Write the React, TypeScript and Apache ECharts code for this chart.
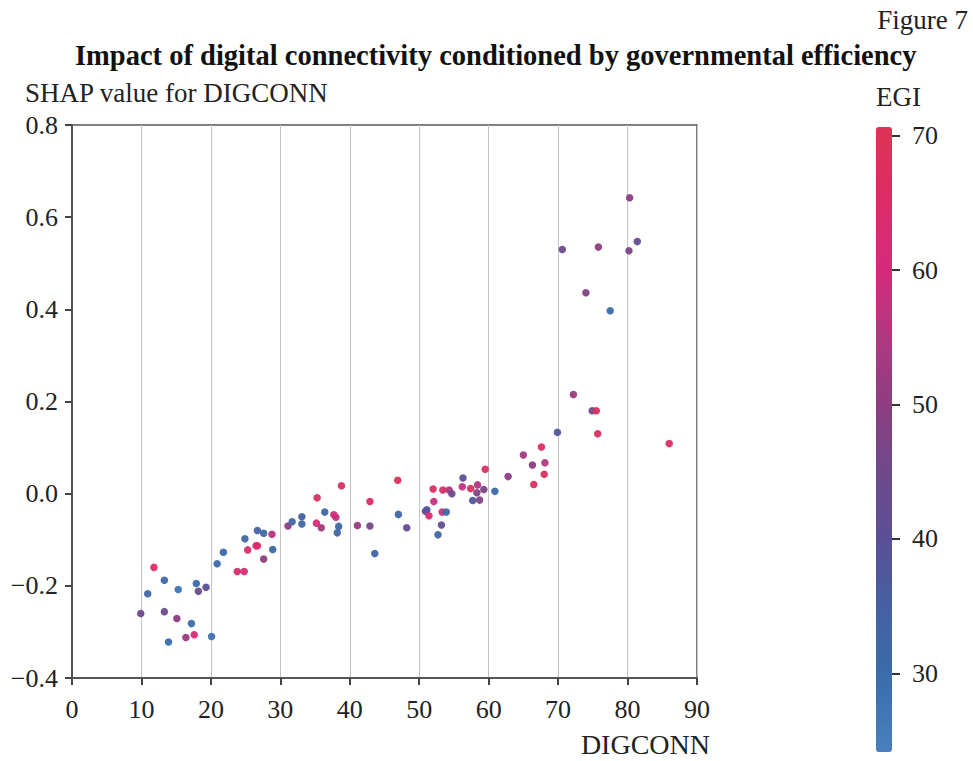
import React, { useEffect, useRef } from "react";
import * as echarts from "echarts";

// DIGCONN (x), SHAP value (y), EGI (colour)
const digconn: number[] = [
  9.9, 10.9, 11.8, 13.3, 13.3, 13.9, 15.3, 15.1, 16.4, 17.6, 17.2, 17.9, 18.2, 19.3, 20.1, 20.9, 21.8,
  23.8, 24.8, 24.9, 25.3, 26.5, 26.7, 26.7, 27.6, 27.6, 28.8, 28.9, 31.1, 31.7, 33.1, 33.1, 35.2, 35.9, 36.4,
  35.3, 37.7, 38.0, 38.4, 38.2, 38.8, 41.1, 42.9, 42.9, 43.6, 46.9, 47.0, 48.2, 50.9, 51.1, 51.4, 52.0, 52.1,
  53.3, 53.9, 53.2, 52.7, 53.4, 54.3, 54.7, 56.3, 56.2, 57.4, 57.7, 58.3, 58.4, 58.7, 59.3, 59.5, 60.9,
  62.8, 65.0, 66.3, 66.5, 67.6, 68.1, 68.0, 69.9, 74.9, 75.5, 75.7, 86.0,
  80.3, 81.4, 70.6, 75.8, 80.2, 74.0, 77.5, 72.2,
];
const shap: number[] = [
  -0.26, -0.217, -0.16, -0.188, -0.256, -0.322, -0.208, -0.271, -0.312, -0.306, -0.282, -0.195, -0.212, -0.203, -0.31, -0.152, -0.127,
  -0.169, -0.169, -0.098, -0.122, -0.113, -0.113, -0.08, -0.086, -0.142, -0.088, -0.121, -0.07, -0.061, -0.05, -0.066, -0.064, -0.074, -0.04,
  -0.009, -0.046, -0.051, -0.071, -0.085, 0.017, -0.069, -0.017, -0.07, -0.13, 0.029, -0.045, -0.074, -0.038, -0.035, -0.048, 0.01, -0.017,
  -0.04, -0.04, -0.068, -0.089, 0.008, 0.008, 0.0, 0.034, 0.015, 0.011, -0.015, 0.002, 0.019, -0.014, 0.009, 0.053, 0.005,
  0.037, 0.084, 0.062, 0.02, 0.101, 0.067, 0.042, 0.133, 0.18, 0.18, 0.13, 0.109,
  0.642, 0.547, 0.53, 0.535, 0.527, 0.436, 0.397, 0.215,
];
const egi: number[] = [
  45, 32, 66, 33, 43, 30, 28, 50, 52, 62, 30, 30, 44, 40, 28, 30, 32,
  63, 62, 33, 64, 62, 64, 34, 33, 50, 56, 33, 50, 33, 35, 33, 62, 53, 32,
  66, 62, 58, 32, 34, 67, 52, 66, 46, 33, 67, 32, 43, 46, 38, 63, 67, 58,
  58, 32, 42, 32, 67, 54, 45, 40, 58, 67, 38, 48, 55, 48, 47, 67, 30,
  50, 53, 50, 66, 67, 55, 67, 38, 46, 67, 67, 67,
  50, 43, 45, 50, 48, 48, 30, 52,
];

const xTicks: number[] = [0, 10, 20, 30, 40, 50, 60, 70, 80, 90];
const yTicks: number[] = [-0.4, -0.2, 0.0, 0.2, 0.4, 0.6, 0.8];
const egiTicks: number[] = [30, 40, 50, 60, 70];
const egiMin = 24.3;
const egiMax = 70.8;

// colour ramp stops (value, colour)
const rampStops: [number, string][] = [
  [24.3, "#4a80c0"],
  [30, "#3a6cab"],
  [35, "#4561a1"],
  [40, "#5a4f96"],
  [45, "#6e4a8c"],
  [50, "#8c3e80"],
  [55, "#b03880"],
  [60, "#d42a7c"],
  [65, "#da2d68"],
  [70.8, "#dc3453"],
];

function hexToRgb(h: string): number[] {
  const v = parseInt(h.slice(1), 16);
  return [(v >> 16) & 255, (v >> 8) & 255, v & 255];
}
function rampColor(v: number): string {
  for (let i = 0; i < rampStops.length - 1; i++) {
    const [a, ca] = rampStops[i];
    const [b, cb] = rampStops[i + 1];
    if (v <= b || i === rampStops.length - 2) {
      const t = Math.max(0, Math.min(1, (v - a) / (b - a)));
      const A = hexToRgb(ca);
      const B = hexToRgb(cb);
      const c = A.map((x, k) => Math.round(x + (B[k] - x) * t));
      return `rgb(${c[0]},${c[1]},${c[2]})`;
    }
  }
  return rampStops[rampStops.length - 1][1];
}
const rampColors: string[] = [];
for (let i = 0; i <= 60; i++) rampColors.push(rampColor(egiMin + ((egiMax - egiMin) * i) / 60));

const FONT = "'Liberation Serif', 'DejaVu Serif', serif";
const fmt = (v: number) => {
  const s = Math.abs(v).toFixed(1);
  return v < -1e-9 ? "\u2212" + s : s;
};

export default function App() {
  const ref = useRef<HTMLDivElement>(null);
  useEffect(() => {
    if (!ref.current) return;
    const chart = echarts.init(ref.current, undefined, { renderer: "svg" });
    const data = digconn.map((x, i) => [x, shap[i], egi[i]]);
    chart.setOption({
      animation: false,
      backgroundColor: "#ffffff",
      textStyle: { fontFamily: FONT },
      grid: [
        {
          left: 72,
          top: 125,
          width: 625,
          height: 553,
          show: true,
          borderColor: "#555555",
          borderWidth: 1.5,
          backgroundColor: "transparent",
        },
        { left: 876, top: 125, width: 16, height: 625, show: false },
      ],
      xAxis: [
        {
          type: "value",
          gridIndex: 0,
          min: 0,
          max: 90,
          interval: 10,
          axisLine: { show: true, onZero: false, lineStyle: { color: "#555555", width: 2 } },
          axisTick: { show: true, length: 7, lineStyle: { color: "#444444", width: 2 } },
          axisLabel: {
            color: "#222222",
            fontSize: 26,
            margin: 18,
            fontFamily: FONT,
            customValues: xTicks,
          },
          splitLine: { show: true, lineStyle: { color: "#c4c4c4", width: 1 } },
        },
        {
          type: "value",
          gridIndex: 1,
          min: 0,
          max: 1,
          show: false,
        },
      ],
      yAxis: [
        {
          type: "value",
          gridIndex: 0,
          min: -0.4,
          max: 0.8,
          interval: 0.2,
          axisLine: { show: true, onZero: false, lineStyle: { color: "#555555", width: 2 } },
          axisTick: { show: true, length: 7, lineStyle: { color: "#444444", width: 2 } },
          axisLabel: {
            color: "#222222",
            fontSize: 26,
            margin: 14,
            fontFamily: FONT,
            customValues: yTicks,
            formatter: (v: number) => fmt(v),
          },
          splitLine: { show: false },
        },
        {
          type: "value",
          gridIndex: 1,
          min: egiMin,
          max: egiMax,
          position: "right",
          axisLine: { show: false, onZero: false },
          axisTick: {
            show: true,
            inside: false,
            length: 8,
            customValues: egiTicks,
            lineStyle: { color: "#333333", width: 2 },
          },
          axisLabel: {
            show: true,
            color: "#222222",
            fontSize: 26,
            margin: 20,
            fontFamily: FONT,
            customValues: egiTicks,
          },
          splitLine: { show: false },
        },
      ],
      visualMap: {
        type: "continuous",
        min: egiMin,
        max: egiMax,
        dimension: 2,
        seriesIndex: 0,
        calculable: false,
        orient: "vertical",
        left: 861,
        top: 112,
        itemWidth: 16,
        itemHeight: 625,
        inRange: { color: rampColors },
        textStyle: { color: "transparent", fontSize: 1 },
      },
      series: [
        {
          type: "scatter",
          xAxisIndex: 0,
          yAxisIndex: 0,
          symbol: "circle",
          symbolSize: 7.5,
          itemStyle: { opacity: 0.95 },
          data,
        },
      ],
      graphic: [
        {
          type: "text",
          right: 5,
          top: 6,
          style: { text: "Figure 7", fontSize: 27, fontFamily: FONT, fill: "#222222" },
        },
        {
          type: "text",
          left: 75,
          top: 41,
          style: {
            text: "Impact of digital connectivity conditioned by governmental efficiency",
            fontSize: 28.5,
            fontWeight: "bold",
            fontFamily: FONT,
            fill: "#111111",
          },
        },
        {
          type: "text",
          left: 25,
          top: 79,
          style: { text: "SHAP value for DIGCONN", fontSize: 27, fontFamily: FONT, fill: "#222222" },
        },
        {
          type: "text",
          left: 876,
          top: 83,
          style: { text: "EGI", fontSize: 27, fontFamily: FONT, fill: "#222222" },
        },
        {
          type: "text",
          right: 263,
          top: 730,
          style: { text: "DIGCONN", fontSize: 28, fontFamily: FONT, fill: "#222222" },
        },
      ],
    });
    return () => chart.dispose();
  }, []);
  return (
    <div
      ref={ref}
      style={{ position: "fixed", left: 0, top: 0, width: 973, height: 761, background: "#fff" }}
    />
  );
}
